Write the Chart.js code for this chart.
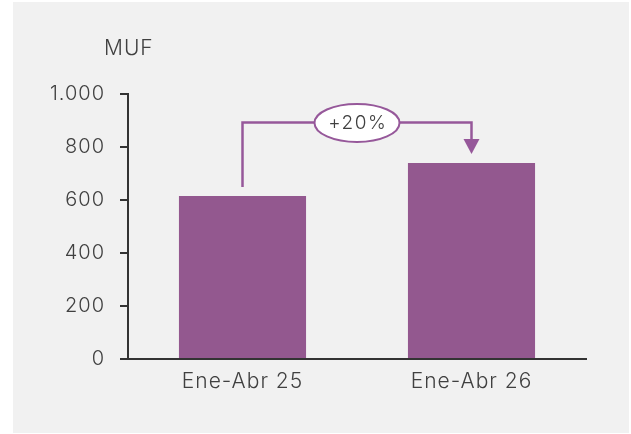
<!DOCTYPE html>
<html>
<head>
<meta charset="utf-8">
<script src="https://cdn.jsdelivr.net/npm/chart.js@4/dist/chart.umd.min.js"></script>
<style>
  html, body { margin: 0; padding: 0; background: #ffffff; }
  #wrap { width: 631px; height: 434px; position: relative; }
</style>
</head>
<body>
<div id="wrap"><canvas id="c" width="631" height="434"></canvas></div>
<script>
// Chart data
const categories = ['Ene-Abr 25', 'Ene-Abr 26'];
const values = [615, 740];
const yTicks = [0, 200, 400, 600, 800, 1000];
const unitLabel = 'MUF';

const FONT = "Inter, 'DejaVu Sans', sans-serif";
const BAR = '#93588F';
const LINE = '#96589A';
const INK = '#404040';
const AXIS = '#333333';
const TRACKING = '1px';

// Spanish-style thousands separator
const fmt = v => v.toLocaleString('de-DE');

// Slightly open letter spacing for all canvas text
const tracking = {
  id: 'tracking',
  beforeLayout(chart) { chart.ctx.letterSpacing = TRACKING; },
  beforeDraw(chart) { chart.ctx.letterSpacing = TRACKING; }
};

// Panel background, unit label and the growth bracket between the bars
const decor = {
  id: 'decor',
  beforeDraw(chart) {
    const ctx = chart.ctx;
    ctx.save();
    ctx.fillStyle = '#F1F1F1';
    ctx.fillRect(13, 2, 616, 431);
    ctx.restore();
  },
  afterDraw(chart) {
    const ctx = chart.ctx;
    const xs = chart.scales.x, ys = chart.scales.y;
    ctx.save();
    // unit label
    ctx.fillStyle = INK;
    ctx.font = "300 21px " + FONT;
    ctx.textAlign = 'left';
    ctx.textBaseline = 'alphabetic';
    ctx.fillText(unitLabel, 104, 55);

    // bracket
    const x0 = xs.getPixelForValue(0);
    const x1 = xs.getPixelForValue(1);
    const top0 = ys.getPixelForValue(values[0]);
    const top1 = ys.getPixelForValue(values[1]);
    const gap = 9;
    const yLine = Math.min(top0, top1) - 40.5;
    const tip = top1 - gap;
    ctx.strokeStyle = LINE;
    ctx.lineWidth = 2.5;
    ctx.lineJoin = 'miter';
    ctx.beginPath();
    ctx.moveTo(x0, top0 - gap);
    ctx.lineTo(x0, yLine);
    ctx.lineTo(x1, yLine);
    ctx.lineTo(x1, tip - 14);
    ctx.stroke();
    // arrow head
    ctx.fillStyle = LINE;
    ctx.beginPath();
    ctx.moveTo(x1 - 8, tip - 15);
    ctx.lineTo(x1 + 8, tip - 15);
    ctx.lineTo(x1, tip);
    ctx.closePath();
    ctx.fill();

    // ellipse with percentage change
    const cx = (x0 + x1) / 2;
    ctx.beginPath();
    ctx.ellipse(cx, yLine + 0.5, 42.5, 19, 0, 0, Math.PI * 2);
    ctx.fillStyle = '#FFFFFF';
    ctx.fill();
    ctx.lineWidth = 2;
    ctx.strokeStyle = LINE;
    ctx.stroke();
    const pct = Math.round((values[1] / values[0] - 1) * 100);
    ctx.fillStyle = INK;
    ctx.font = "300 19px " + FONT;
    ctx.letterSpacing = '1.5px';
    ctx.textAlign = 'center';
    ctx.textBaseline = 'middle';
    ctx.fillText((pct >= 0 ? '+' : '') + pct + '%', cx + 0.75, yLine + 1);
    ctx.restore();
  }
};

new Chart(document.getElementById('c'), {
  type: 'bar',
  data: {
    labels: categories,
    datasets: [{
      data: values,
      backgroundColor: BAR,
      borderWidth: 0,
      categoryPercentage: 1,
      barPercentage: 0.555
    }]
  },
  options: {
    responsive: false,
    animation: false,
    devicePixelRatio: 1,
    layout: { padding: { left: 0, right: 45, top: 94, bottom: 0 } },
    plugins: { legend: { display: false }, tooltip: { enabled: false } },
    scales: {
      x: {
        grid: { display: false, drawTicks: false },
        border: { display: true, color: AXIS, width: 2 },
        ticks: { color: INK, font: { family: FONT, size: 21, weight: '300' }, padding: 10 },
        afterFit(s) { s.height = 75; }
      },
      y: {
        min: 0,
        max: 1000,
        afterBuildTicks(s) { s.ticks = yTicks.map(v => ({ value: v })); },
        grid: { drawOnChartArea: false, drawTicks: true, tickLength: 8, color: AXIS, lineWidth: 2 },
        border: { display: true, color: AXIS, width: 2 },
        ticks: { color: INK, font: { family: FONT, size: 20, weight: '300' }, padding: 15, callback: v => fmt(v) },
        afterFit(s) { s.width = 128; }
      }
    }
  },
  plugins: [tracking, decor]
});
</script>
</body>
</html>
